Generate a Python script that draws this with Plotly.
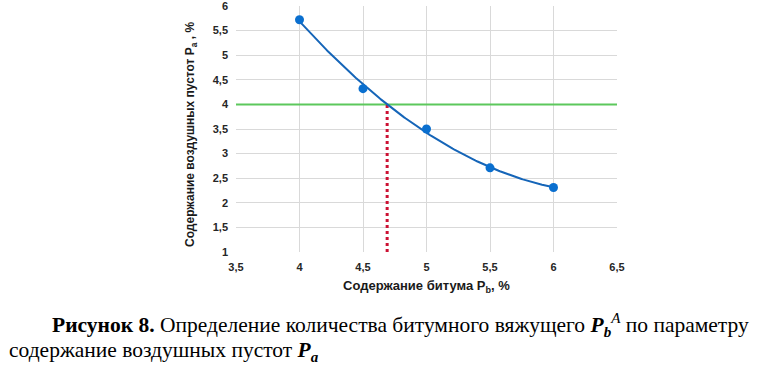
import numpy as np
import plotly.graph_objects as go

# Data
bitumen = [4.0, 4.5, 5.0, 5.5, 6.0]          # Pb, %
air_voids = [5.72, 4.32, 3.50, 2.71, 2.31]   # Pa, %
target_voids = 4.0
x_ticks = [3.5, 4, 4.5, 5, 5.5, 6, 6.5]
y_ticks = [1, 1.5, 2, 2.5, 3, 3.5, 4, 4.5, 5, 5.5, 6]

# polynomial (2nd order) trendline computed from the data
coef = np.polyfit(bitumen, air_voids, 2)
xs = np.linspace(min(bitumen), max(bitumen), 200)
ys = np.polyval(coef, xs)
roots = np.roots(np.array(coef) - np.array([0, 0, target_voids]))
roots = [r.real for r in roots if abs(r.imag) < 1e-9 and min(bitumen) <= r.real <= max(bitumen)]
pb_opt = roots[0]

W, H = 764, 369
L, R, T, B = 236, 617, 6, 252
pw, ph = R - L, B - T
def px(X):
    return (X - L) / pw
def py(Y):
    return (B - Y) / ph

fig = go.Figure()
fig.add_trace(go.Scatter(x=[x_ticks[0], x_ticks[-1]], y=[target_voids, target_voids],
                         mode="lines", line=dict(color="#5cc85c", width=2),
                         hoverinfo="skip", showlegend=False))
fig.add_trace(go.Scatter(x=[pb_opt, pb_opt], y=[y_ticks[0], target_voids],
                         mode="lines", line=dict(color="#cc1133", width=3, dash="dot"),
                         hoverinfo="skip", showlegend=False))
fig.add_trace(go.Scatter(x=xs, y=ys, mode="lines",
                         line=dict(color="#1565b8", width=2), showlegend=False))
fig.add_trace(go.Scatter(x=bitumen, y=air_voids, mode="markers",
                         marker=dict(color="#0a6fcf", size=9), showlegend=False))

axis_common = dict(showgrid=True, gridcolor="#d9d9d9", gridwidth=1,
                   zeroline=False, showline=False, automargin=False,
                   tickfont=dict(family="Liberation Sans", size=11, color="#262626", weight="bold"),
                   ticks="", ticklabelstandoff=7, ticklabeloverflow="allow", fixedrange=True)
fig.update_xaxes(range=[x_ticks[0], x_ticks[-1]], tickvals=x_ticks, **axis_common)
fig.update_yaxes(range=[y_ticks[0], y_ticks[-1]], tickvals=y_ticks, **axis_common)

annotations = [
    dict(text="Содержание воздушных пустот P<sub>a</sub> , %", x=px(191), y=py(134),
         textangle=-90, font=dict(family="Liberation Sans", size=12, color="#1a1a1a", weight="bold")),
    dict(text="Содержание битума P<sub>b</sub>, %", x=px(426), y=py(286),
         font=dict(family="Liberation Sans", size=13, color="#1a1a1a", weight="bold")),
    dict(text="<b>Рисунок 8.</b> Определение количества битумного вяжущего "
              "<b><i>P<sub>b</sub></i></b><i><sup>A</sup></i> по параметру",
         x=px(50), y=py(325), xanchor="left",
         font=dict(family="Liberation Serif", size=21.5, color="#000000")),
    dict(text="содержание воздушных пустот <b><i>P<sub>a</sub></i></b>",
         x=px(7), y=py(351), xanchor="left",
         font=dict(family="Liberation Serif", size=21.5, color="#000000")),
]
for a in annotations:
    a.update(xref="paper", yref="paper", showarrow=False)
    a.setdefault("xanchor", "center")
    a.setdefault("yanchor", "middle")

fig.update_layout(width=W, height=H,
                  margin=dict(l=L, r=W - R, t=T, b=H - B, autoexpand=False),
                  paper_bgcolor="white", plot_bgcolor="white",
                  separators=", ", annotations=annotations, showlegend=False)

fig.write_html("out.html", config={"displayModeBar": False},
               post_script="document.body.style.margin='0';document.body.style.overflow='hidden';")
